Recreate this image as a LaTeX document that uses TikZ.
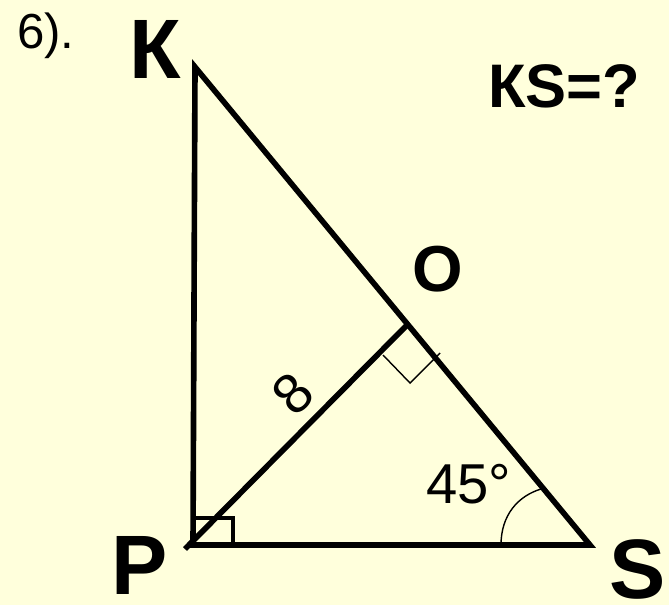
\documentclass[tikz,border=0pt]{standalone}
\usepackage{fontspec}
\setmainfont{Liberation Sans}
\usetikzlibrary{calc}
\definecolor{PaperYellow}{HTML}{FFFFDC}
\definecolor{InkBlack}{HTML}{000000}
\newcommand{\figsize}[1]{\fontsize{#1}{#1}\selectfont}
\tikzset{
  side/.style={line width=3.2pt, InkBlack},
  boxmark/.style={line width=2.8pt, InkBlack},
  thinmark/.style={line width=0.8pt, InkBlack},
  vertexlbl/.style={inner sep=0pt, outer sep=0pt, text=InkBlack},
  plainlbl/.style={inner sep=0pt, outer sep=0pt, text=InkBlack, anchor=base west},
}

\begin{document}
\begin{tikzpicture}[x=0.02cm, y=-0.02cm]
  % paper
  \fill[PaperYellow] (0,0) rectangle (669,605);

  % vertices of the triangle
  \coordinate (K) at (195,67);
  \coordinate (P) at (193,545);
  \coordinate (S) at (590,545);
  \coordinate (O) at (407,325);
  \coordinate (Ptail) at (185,549);

  % triangle and altitude
  \draw[side, line join=miter] (K) -- (P) -- (S) -- cycle;
  \draw[side] (Ptail) -- (O);

  % right angles
  \draw[boxmark] ($(P)+(0,-27)$) -| ($(P)+(40,0)$);
  \draw[thinmark] ($(O)+(-24,30)$) -- ($(O)+(3,58)$) -- ($(O)+(33,28)$);

  % angle at S
  \draw[thinmark] ($(S)+(-89,0)$) .. controls ($(S)+(-89,-30)$) and ($(S)+(-72,-49)$) .. ($(S)+(-49,-56)$);

  % labels
  \node[vertexlbl, font=\figsize{48}\bfseries] (lblK) at (155,49) {К};
  \node[vertexlbl, font=\figsize{37}\bfseries] (lblO) at (438,269) {O};
  \node[vertexlbl, font=\figsize{48}\bfseries] (lblP) at (140,565) {P};
  \node[vertexlbl, font=\figsize{48}\bfseries] (lblS) at (638,569) {S};
  \node[plainlbl, font=\figsize{35}\bfseries] (question) at (488,107) {КS=?};
  \node[plainlbl, font=\figsize{28}] (number) at (17,48) {6).};
  \node[plainlbl, font=\figsize{32}] (angle) at (426,503) {45°};
  \node[vertexlbl, font=\figsize{32}, rotate=45] (length) at (293,394) {8};
\end{tikzpicture}
\end{document}
